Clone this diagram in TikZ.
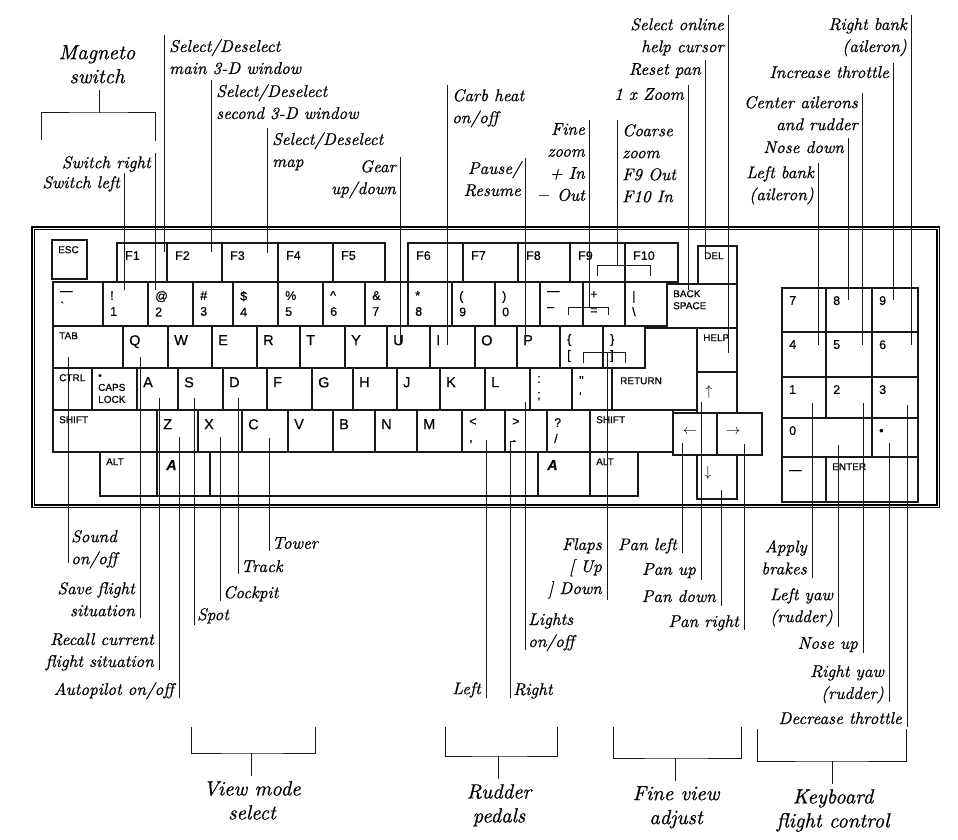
\documentclass[tikz,border=0pt]{standalone}
\usepackage{fontspec}
\usepackage{tikz}
\usetikzlibrary{positioning, calc}
\newfontfamily\keyfont{Liberation Sans}[FakeBold=0.4]
\newfontfamily\lblfont{lmroman10-italic.otf}[FakeBold=0.6]

\newcommand\lblsize{\fontsize{17}{22}\selectfont}
\newcommand\grpsize{\fontsize{20.5}{24}\selectfont}
\newcommand\lettersize{\fontsize{14.5}{15}\selectfont}
\newcommand\digitsize{\fontsize{12.5}{16}\selectfont}
\newcommand\capsize{\fontsize{10}{12}\selectfont}

\tikzset{
  keybox/.style={draw=black!90, line width=1.2pt},
  letter/.style={anchor=north west, inner sep=0pt, font=\keyfont\lettersize},
  digits/.style={anchor=north west, inner sep=0pt, align=left, font=\keyfont\digitsize,
    execute at begin node={\vphantom{1}}},
  capkey/.style={anchor=north west, inner sep=0pt, align=left, font=\keyfont\capsize,
    execute at begin node={\vphantom{C}}},
  arrowkey/.style={inner sep=0pt, font={\fontsize{14}{14}\selectfont}},
  callout/.style={draw=black!90, line width=1pt},
  lblR/.style={anchor=north east, inner sep=0pt, align=right, font=\lblfont\lblsize},
  lblL/.style={anchor=north west, inner sep=0pt, align=left, font=\lblfont\lblsize},
  group/.style={anchor=north, inner sep=0pt, align=center, font=\lblfont\grpsize},
}

\begin{document}
\begin{tikzpicture}[x=1pt, y=-1pt]
  \useasboundingbox[fill=white] (0,0) rectangle (958,840);

  % Keyboard case
  \draw[line width=1.4pt, double, double distance=0.8pt] (33,228) rectangle (938,506);

  % Function keys
  \foreach \a/\b/\t [count=\i] in {117/167/F1, 167/222/F2, 222/278/F3, 278/333/F4, 333/385/F5,
      408/463/F6, 463/518/F7, 518/570/F8, 570/625/F9, 625/678/F10} {
    \draw[keybox] (\a,243) rectangle (\b,282);
    \node[digits] (fn\i) at (\a+8,251) {\t};
  }

  % Number row
  \foreach \a/\b/\t [count=\i] in {53/103/{—\\`}, 103/148/{!\\1}, 148/193/{@\\2}, 193/233/{\#\\3},
      233/278/{\$\\4}, 278/323/{\%\\5}, 323/365/{\textasciicircum\\6}, 365/408/{\&\\7},
      408/452/{*\\8}, 452/495/{(\\9}, 495/540/{)\\0}, 540/583/{—\\–}, 583/625/{+\\=},
      625/667/{|\\\textbackslash}} {
    \draw[keybox] (\a,282) rectangle (\b,326);
    \node[digits] (num\i) at (\a+7,291) {\t};
  }

  % Letter keys
  \foreach \a/\b/\ya/\yb/\t in {123/168/326/368/Q, 168/212/326/368/W, 212/257/326/368/E,
      257/300/326/368/R, 300/345/326/368/T, 345/387/326/368/Y, 387/430/326/368/U,
      430/475/326/368/I, 475/517/326/368/O, 517/560/326/368/P,
      137/178/368/410/A, 178/223/368/410/S, 223/267/368/410/D, 267/312/368/410/F,
      312/353/368/410/G, 353/397/368/410/H, 397/440/368/410/J, 440/485/368/410/K,
      485/530/368/410/L,
      157/198/410/452/Z, 198/242/410/452/X, 242/288/410/452/C, 288/333/410/452/V,
      333/375/410/452/B, 375/417/410/452/N, 417/462/410/452/M} {
    \draw[keybox] (\a,\ya) rectangle (\b,\yb);
    \node[letter] (key\t) at (\a+6,\ya+9) {\t};
  }

  % Punctuation keys
  \foreach \a/\b/\ya/\yb/\t [count=\i] in {560/603/326/368/{\{\\{[}}, 603/645/326/368/{\}\\{]}},
      530/572/368/410/{:\\;}, 572/612/368/410/{"\\'}, 462/505/410/452/{<\\,},
      505/547/410/452/{>\\.}, 547/590/410/452/{?\\/}} {
    \draw[keybox] (\a,\ya) rectangle (\b,\yb);
    \node[digits] (punct\i) at (\a+7,\ya+8) {\t};
  }

  % Keys with small print
  \foreach \a/\b/\ya/\yb/\t [count=\i] in {52/87/240/279/ESC, 698/737/246/284/DEL,
      667/737/284/328/{BACK\\SPACE}, 697/737/328/372/HELP, 53/123/326/368/TAB,
      53/92/368/410/CTRL, 92/137/368/410/{\textbullet\\CAPS\\LOCK}, 53/157/410/452/SHIFT,
      590/673/410/452/SHIFT, 100/157/452/496/ALT, 590/638/452/496/ALT,
      826/918/457/502/ENTER} {
    \draw[keybox] (\a,\ya) rectangle (\b,\yb);
    \node[capkey] (cap\i) at (\a+6,\ya+6) {\t};
  }
  \draw[keybox] (645,328) -- (697,328) -- (697,410) -- (612,410) -- (612,368) -- (645,368) -- cycle;
  \node[capkey] (ret) at (620,377) {RETURN};

  % Space bar and Amiga keys
  \draw[keybox] (210,452) rectangle (538,496);
  \foreach \a/\b [count=\i] in {157/210, 538/590} {
    \draw[keybox] (\a,452) rectangle (\b,496);
    \node[letter, font=\keyfont\lettersize\bfseries\itshape] (amiga\i) at (\a+9,460) {A};
  }

  % Cursor keys
  \foreach \a/\b/\ya/\yb/\px/\py/\t/\n in {697/737/372/413/709/392/\uparrow/up,
      673/717/413/455/690/432/\leftarrow/lft, 717/762/413/455/733/432/\rightarrow/rgt,
      697/737/455/499/708/473/\downarrow/dwn} {
    \draw[keybox] (\a,\ya) rectangle (\b,\yb);
    \node[arrowkey] (\n) at (\px,\py) {$\t$};
  }

  % Numeric keypad
  \foreach \a/\b/\ya/\yb/\t [count=\i] in {782/826/288/332/7, 826/872/288/332/8, 872/918/288/332/9,
      782/826/332/377/4, 826/872/332/377/5, 872/918/332/377/6,
      782/826/377/418/1, 826/872/377/418/2, 872/918/377/418/3,
      782/872/418/457/0, 872/918/418/457/{\textbullet}, 782/826/457/502/—} {
    \draw[keybox] (\a,\ya) rectangle (\b,\yb);
    \node[digits] (pad\i) at (\a+7,\ya+8) {\t};
  }

  % Callouts above, text left of the line
  \foreach \n/\x/\ya/\yb/\t in {swr/155/153/290/{Switch right}, swl/124/173/290/{Switch left},
      gear/400/157/345/{Gear\\up/down}, pause/525/158/345/{Pause/\\Resume},
      finez/589/120/307/{Fine\\zoom\\+ In\\$-$ Out}, onex/688/85/290/{1 x Zoom},
      reset/705/60/255/{Reset pan}, help/728/15/353/{Select online\\help cursor},
      rbank/911/15/345/{Right bank\\(aileron)}, incr/893/63/300/{Increase throttle},
      ctr/862/93/345/{Center ailerons\\and rudder}, nosed/848/138/300/{Nose down},
      lbank/818/163/345/{Left bank\\(aileron)}} {
    \coordinate (\n-a) at (\x,\ya);
    \coordinate (\n-b) at (\x,\yb);
    \draw[callout] (\n-a) -- (\n-b);
    \node[lblR] (\n) at (\x-4,\ya+3) {\t};
  }

  % Callouts above, text right of the line
  \foreach \n/\x/\ya/\yb/\t in {main/164/35/252/{Select/Deselect\\main 3-D window},
      second/211/80/252/{Select/Deselect\\second 3-D window},
      map/267/128/253/{Select/Deselect\\map}, carb/447/85/345/{Carb heat\\on/off},
      coarse/617/120/265/{Coarse\\zoom\\F9 Out\\F10 In}} {
    \coordinate (\n-a) at (\x,\ya);
    \coordinate (\n-b) at (\x,\yb);
    \draw[callout] (\n-a) -- (\n-b);
    \node[lblL] (\n) at (\x+5,\ya+4) {\t};
  }

  % Callouts below, text left of the line
  \foreach \n/\x/\ya/\yb/\ty/\t in {save/140/357/618/582/{Save flight\\situation},
      recall/159/398/670/633/{Recall current\\flight situation},
      auto/179/437/698/682/{Autopilot on/off}, pedl/486/440/698/682/{Left},
      flaps/607/352/600/538/{Flaps\\{[} Up\\{]} Down}, panl/682/443/553/538/{Pan left},
      panu/701/402/580/563/{Pan up}, pand/721/490/606/590/{Pan down},
      panr/744/444/630/615/{Pan right}, brakes/812/403/578/540/{Apply\\brakes},
      lyaw/838/445/627/588/{Left yaw\\(rudder)}, noseu/863/403/653/637/{Nose up},
      ryaw/889/443/702/665/{Right yaw\\(rudder)}, decr/907/405/727/712/{Decrease throttle}} {
    \coordinate (\n-a) at (\x,\ya);
    \coordinate (\n-b) at (\x,\yb);
    \draw[callout] (\n-a) -- (\n-b);
    \node[lblR] (\n) at (\x-5,\ty) {\t};
  }

  % Callouts below, text right of the line
  \foreach \n/\x/\ya/\yb/\ty/\t in {sound/68/357/563/530/{Sound\\on/off},
      spot/194/398/625/608/{Spot}, cockpit/220/437/601/586/{Cockpit},
      track/238/398/574/560/{Track}, tower/269/438/551/537/{Tower},
      pedr/510/441/698/683/{Right}, lights/525/402/650/613/{Lights\\on/off}} {
    \coordinate (\n-a) at (\x,\ya);
    \coordinate (\n-b) at (\x,\yb);
    \draw[callout] (\n-a) -- (\n-b);
    \node[lblL] (\n) at (\x+3,\ty) {\t};
  }
  \draw[callout] (pedr-a) -- ++(6,0);

  % Brackets over paired keys
  \draw[callout] (finez-b) ++(-21,8) -- ++(0,-8) -- ++(40,0) -- ++(0,8);
  \draw[callout] (coarse-b) ++(-20,11) -- ++(0,-11) -- ++(53,0) -- ++(0,11);
  \draw[callout] (flaps-a) ++(-24,11) -- ++(0,-11) -- ++(42,0) -- ++(0,11);

  % Magneto switch
  \node[group] (magneto) at (97,45) {Magneto\\switch};
  \coordinate (mag-s) at (99,90);
  \coordinate (mag-m) at (99,113);
  \coordinate (mag-l) at (41,140);
  \coordinate (mag-r) at (155,141);
  \draw[callout] (mag-s) -- (mag-m);
  \draw[callout] (mag-l) |- (mag-m) -| (mag-r);

  % Groups below
  \foreach \n/\l/\r/\ya/\yb/\s/\t in {view/191/315/727/753/251/{View mode\\select},
      rudder/445/557/727/756/498/{Rudder\\pedals}, fine/613/741/727/758/675/{Fine view\\adjust},
      kbd/757/906/729/761/832/{Keyboard\\flight control}} {
    \coordinate (\n-l) at (\l,\ya);
    \coordinate (\n-r) at (\r,\ya);
    \coordinate (\n-m) at (\s,\yb);
    \draw[callout] (\n-l) |- (\n-m) -| (\n-r);
    \draw[callout] (\n-m) -- ++(0,23);
    \node[group] (\n) at (\s+1,\yb+28) {\t};
  }
\end{tikzpicture}
\end{document}
